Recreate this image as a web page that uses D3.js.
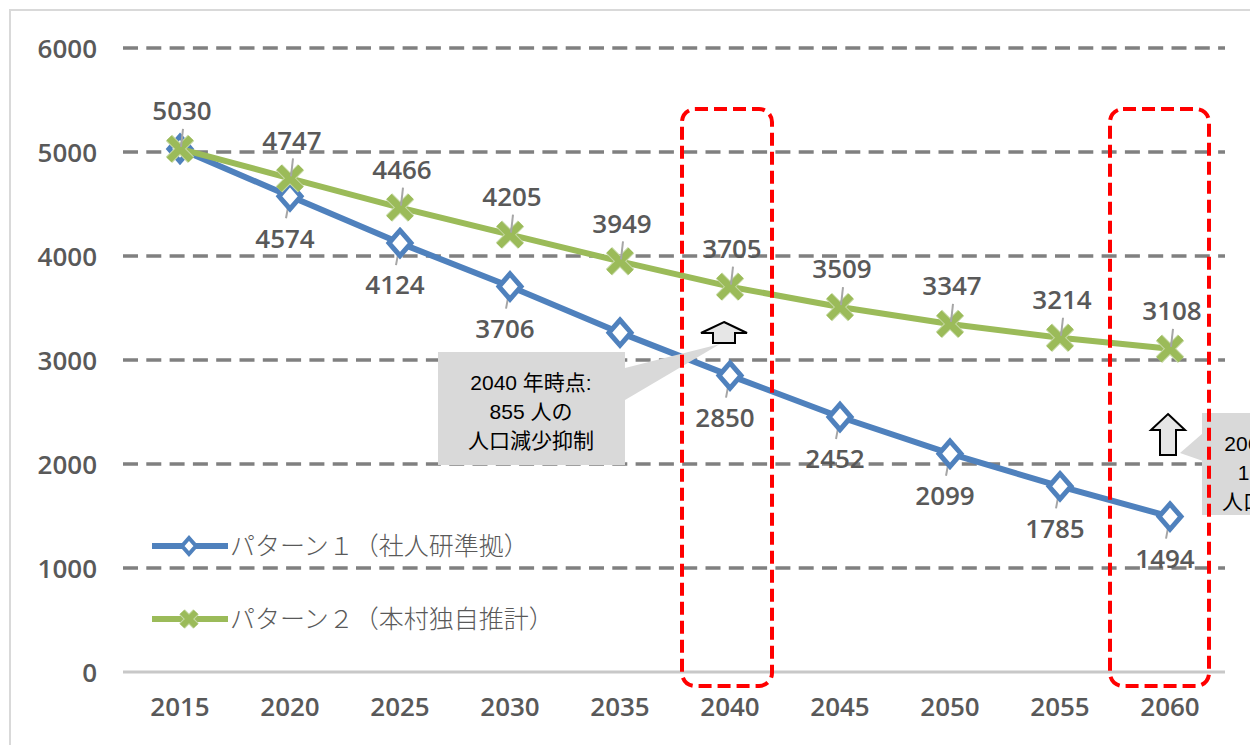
<!DOCTYPE html>
<html>
<head>
<meta charset="utf-8">
<script src="https://cdn.jsdelivr.net/npm/d3@7"></script>
<style>
body { margin: 0; background: #fff; }
svg { display: block; }
</style>
</head>
<body>
<script>
"use strict"

const years = ["2015", "2020", "2025", "2030", "2035", "2040", "2045", "2050", "2055", "2060"];
const pattern1 = [5030, 4574, 4124, 3706, 3263, 2850, 2452, 2099, 1785, 1494];
const pattern2 = [5030, 4747, 4466, 4205, 3949, 3705, 3509, 3347, 3214, 3108];
const yTicks = [0, 1000, 2000, 3000, 4000, 5000, 6000];
const seriesNames = ["パターン１（社人研準拠）", "パターン２（本村独自推計）"];
const hiddenLabels1 = ["2035"];          // label sits under the callout
const noteYears = ["2040", "2060"];
const notes = [
	["2040 年時点:", "855 人の", "人口減少抑制"],
	["2060 年時点:", "1614 人の", "人口減少抑制"]
];

const w = 1250;
const h = 745;
const blue = "#4f81bd";
const green = "#9bbb59";
const grey = "#595959";
const numFont = "'Open Sans', 'Liberation Sans', sans-serif";
const jpFont = "'Liberation Sans', 'Noto Sans CJK JP', sans-serif";

const svg = d3.select("body")
	.append("svg")
	.attr("width", w)
	.attr("height", h);

// outer chart frame
svg.append("rect")
	.attr("x", 10).attr("y", 10)
	.attr("width", w + 20).attr("height", h + 20)
	.attr("fill", "#fff")
	.attr("stroke", "#d9d9d9")
	.attr("stroke-width", 2);

const xScale = d3.scaleBand()
	.domain(years)
	.range([125, 1225]);
const cx = d => xScale(d) + xScale.bandwidth() / 2;

const yScale = d3.scaleLinear()
	.domain([0, 6000])
	.range([672, 48]);

// gridlines
svg.append("g")
	.selectAll("line")
	.data(yTicks.filter(d => d > 0))
	.enter()
	.append("line")
	.attr("x1", 123).attr("x2", 1225)
	.attr("y1", d => yScale(d)).attr("y2", d => yScale(d))
	.attr("stroke", "#808080")
	.attr("stroke-width", 3.5)
	.attr("stroke-dasharray", "15 8.3");

svg.append("line")
	.attr("x1", 123).attr("x2", 1225)
	.attr("y1", yScale(0)).attr("y2", yScale(0))
	.attr("stroke", "#c8c8c8")
	.attr("stroke-width", 3);

// y axis labels
const yAxis = d3.axisLeft(yScale).tickValues(yTicks).tickFormat(d3.format("d")).tickSize(0).tickPadding(0);
const gy = svg.append("g")
	.attr("transform", "translate(97,0)")
	.call(yAxis);
gy.select(".domain").remove();
gy.selectAll("text")
	.attr("font-family", numFont)
	.attr("font-size", 26)
	.attr("font-weight", 600)
	.attr("fill", grey)
	.attr("dy", "0.36em");

// x axis labels
const xAxis = d3.axisBottom(xScale).tickSize(0).tickPadding(0);
const gx = svg.append("g")
	.attr("transform", "translate(0,700)")
	.call(xAxis);
gx.select(".domain").remove();
gx.selectAll("text")
	.attr("font-family", numFont)
	.attr("font-size", 26)
	.attr("font-weight", 600)
	.attr("fill", grey)
	.attr("dy", "0.6em");

const line = d3.line()
	.x((d, i) => cx(years[i]))
	.y(d => yScale(d));

const diamond = s => `M0,${-s * 1.15}L${s},0L0,${s * 1.15}L${-s},0Z`;

function drawX(g, x, y, s, sw) {
	const m = g.append("g").attr("transform", `translate(${x},${y})`);
	m.append("path")
		.attr("d", `M${-s},${-s}L${s},${s}M${s},${-s}L${-s},${s}`)
		.attr("stroke", "#c5d8a4")
		.attr("stroke-width", sw + 2)
		.attr("fill", "none");
	m.append("path")
		.attr("d", `M${-s},${-s}L${s},${s}M${s},${-s}L${-s},${s}`)
		.attr("stroke", green)
		.attr("stroke-width", sw)
		.attr("fill", "none");
}

// series 1
svg.append("path")
	.datum(pattern1)
	.attr("d", line)
	.attr("fill", "none")
	.attr("stroke", blue)
	.attr("stroke-width", 6)
	.attr("stroke-linejoin", "round");

const shown1 = pattern1.map((d, i) => ({ v: d, year: years[i] }))
	.filter((d, i) => i > 0 && !hiddenLabels1.includes(d.year));

// leader lines
svg.append("g")
	.selectAll("line")
	.data(shown1)
	.enter()
	.append("line")
	.attr("x1", d => cx(d.year) - 1).attr("x2", d => cx(d.year) - 4)
	.attr("y1", d => yScale(d.v) + 6).attr("y2", d => yScale(d.v) + 22)
	.attr("stroke", "#a6a6a6")
	.attr("stroke-width", 2);

svg.append("g")
	.selectAll("path")
	.data(pattern1)
	.enter()
	.append("path")
	.attr("transform", (d, i) => `translate(${cx(years[i])},${yScale(d)})`)
	.attr("d", diamond(11))
	.attr("fill", "#fff")
	.attr("stroke", blue)
	.attr("stroke-width", 5);

svg.append("g")
	.selectAll("text")
	.data(shown1)
	.enter()
	.append("text")
	.attr("x", d => cx(d.year) - 5)
	.attr("y", d => yScale(d.v) + 42)
	.attr("text-anchor", "middle")
	.attr("dy", "0.36em")
	.attr("font-family", numFont)
	.attr("font-size", 26)
	.attr("font-weight", 600)
	.attr("fill", grey)
	.text(d => d.v);

// series 2
svg.append("path")
	.datum(pattern2)
	.attr("d", line)
	.attr("fill", "none")
	.attr("stroke", green)
	.attr("stroke-width", 6)
	.attr("stroke-linejoin", "round");

const g2 = svg.append("g");
pattern2.forEach((d, i) => drawX(g2, cx(years[i]), yScale(d), 11, 7));

svg.append("g")
	.selectAll("line")
	.data(pattern2)
	.enter()
	.append("line")
	.attr("x1", (d, i) => cx(years[i]) + 1).attr("x2", (d, i) => cx(years[i]) + 3)
	.attr("y1", d => yScale(d) - 2).attr("y2", d => yScale(d) - 20)
	.attr("stroke", "#a6a6a6")
	.attr("stroke-width", 2);

svg.append("g")
	.selectAll("text")
	.data(pattern2)
	.enter()
	.append("text")
	.attr("x", (d, i) => cx(years[i]) + 2)
	.attr("y", d => yScale(d) - 38)
	.attr("text-anchor", "middle")
	.attr("dy", "0.36em")
	.attr("font-family", numFont)
	.attr("font-size", 26)
	.attr("font-weight", 600)
	.attr("fill", grey)
	.text(d => d);

// legend
const legend = svg.append("g");
legend.append("line")
	.attr("x1", 152).attr("x2", 228).attr("y1", 546).attr("y2", 546)
	.attr("stroke", blue).attr("stroke-width", 6);
legend.append("path")
	.attr("transform", "translate(189,546)")
	.attr("d", diamond(7))
	.attr("fill", "#fff").attr("stroke", blue).attr("stroke-width", 4);
legend.append("line")
	.attr("x1", 152).attr("x2", 228).attr("y1", 619).attr("y2", 619)
	.attr("stroke", green).attr("stroke-width", 6);
drawX(legend, 189, 619, 7, 6);
legend.selectAll("text")
	.data(seriesNames)
	.enter()
	.append("text")
	.attr("x", 230)
	.attr("y", (d, i) => i === 0 ? 546 : 619)
	.attr("dy", "0.36em")
	.attr("font-family", "'Noto Sans CJK JP', sans-serif")
	.attr("font-weight", 300)
	.attr("font-size", 25)
	.attr("fill", grey)
	.text(d => d);

// callouts
function callout(boxX, boxY, boxW, boxH, wedge, lines, textX) {
	const g = svg.append("g");
	g.append("path")
		.attr("d", `M${wedge[0][0]},${wedge[0][1]}L${wedge[1][0]},${wedge[1][1]}L${wedge[2][0]},${wedge[2][1]}Z`)
		.attr("fill", "#d9d9d9");
	g.append("rect")
		.attr("x", boxX).attr("y", boxY)
		.attr("width", boxW).attr("height", boxH)
		.attr("fill", "#d9d9d9");
	g.selectAll("text")
		.data(lines)
		.enter()
		.append("text")
		.attr("x", textX)
		.attr("y", (d, i) => boxY + 30 + i * 29)
		.attr("dy", "0.36em")
		.attr("text-anchor", "middle")
		.attr("font-family", jpFont)
		.attr("font-size", 21)
		.attr("fill", "#000")
		.text(d => d);
}

function upArrow(x, top, headW, shaftW, headH, bottom) {
	svg.append("path")
		.attr("d", `M${x},${top}L${x + headW / 2},${top + headH}L${x + shaftW / 2},${top + headH}` +
			`L${x + shaftW / 2},${bottom}L${x - shaftW / 2},${bottom}L${x - shaftW / 2},${top + headH}` +
			`L${x - headW / 2},${top + headH}Z`)
		.attr("fill", "#e6e6e6")
		.attr("stroke", "#000")
		.attr("stroke-width", 2)
		.attr("stroke-linejoin", "miter");
}

const n1 = cx(noteYears[0]);
callout(438, 352, 187, 113, [[625, 368], [n1 - 10, 344], [625, 400]], notes[0], 531);
upArrow(n1 - 6, 322, 46, 22, 11, 343);

// second note runs off the right edge, as in the source image
const n2 = cx(noteYears[1]);
callout(1202, 413, 80, 102, [[1203, 433], [n2 + 10, 453], [1203, 461]], notes[1], 1285);
upArrow(n2 - 2, 414, 34, 16, 16, 455);

// red highlight boxes
svg.append("rect")
	.attr("x", n1 - 48).attr("y", 109)
	.attr("width", 90).attr("height", 577)
	.attr("rx", 13)
	.attr("fill", "none")
	.attr("stroke", "#ff0000")
	.attr("stroke-width", 4)
	.attr("stroke-dasharray", "13 6");
svg.append("rect")
	.attr("x", n2 - 60).attr("y", 109)
	.attr("width", 99).attr("height", 577)
	.attr("rx", 13)
	.attr("fill", "none")
	.attr("stroke", "#ff0000")
	.attr("stroke-width", 4)
	.attr("stroke-dasharray", "13 6");
</script>
</body>
</html>
